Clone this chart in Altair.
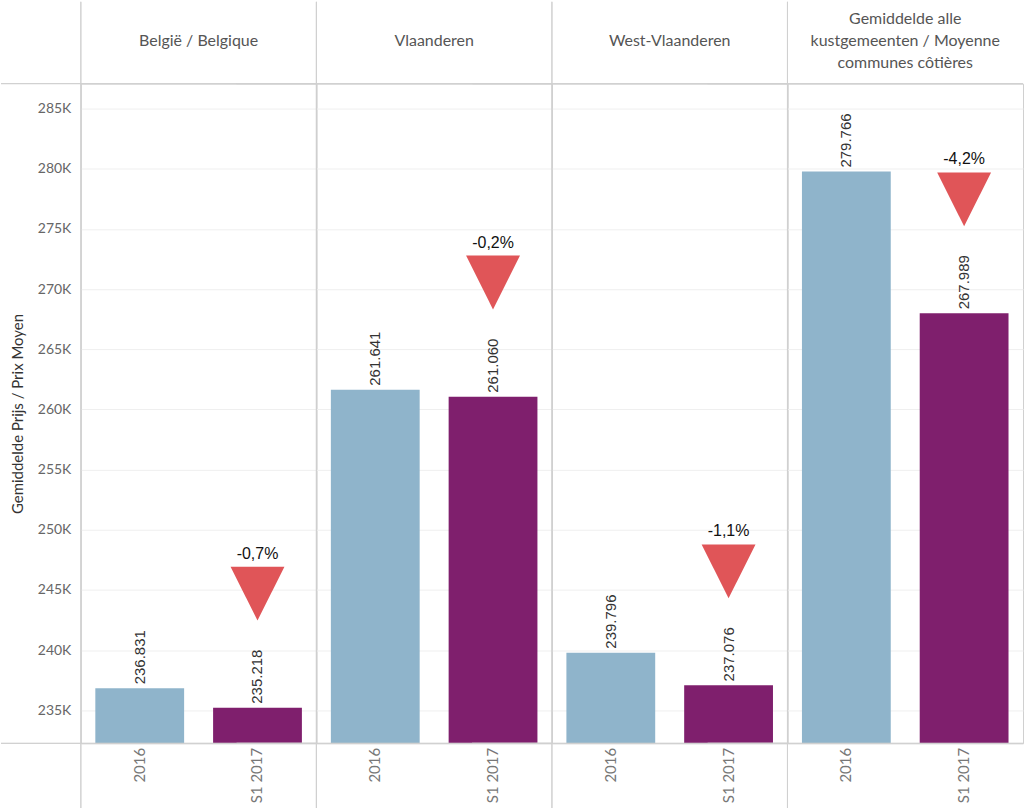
import altair as alt
import pandas as pd

regions = ["België / Belgique", "Vlaanderen", "West-Vlaanderen",
           "Gemiddelde alle|kustgemeenten / Moyenne|communes côtières"]
periods = ["2016", "S1 2017"]
values_2016 = [236831, 261641, 239796, 279766]
values_s1_2017 = [235218, 261060, 237076, 267989]
change_labels = ["-0,7%", "-0,2%", "-1,1%", "-4,2%"]
marker_values = [244700, 270550, 246550, 277450]

rows = []
for i, r in enumerate(regions):
    for j, (p, v) in enumerate(zip(periods, [values_2016[i], values_s1_2017[i]])):
        rows.append({"region": r, "period": p, "value": v,
                     "label": f"{v:,}".replace(",", "."),
                     "marker": marker_values[i] if j == 1 else None,
                     "pct": change_labels[i] if j == 1 else None})
df = pd.DataFrame(rows)

W, H = 236, 661
LINE = "#d0d0d0"
yscale = alt.Scale(domain=[232260, 287070], zero=False, nice=False)
xenc = alt.X("period:N", sort=periods,
             scale=alt.Scale(paddingInner=0.246, paddingOuter=0.123),
             axis=alt.Axis(title=None, labelAngle=270, ticks=False, domain=False,
                           labelFontSize=15, labelColor="#777", labelFont="Lato",
                           labelPadding=4))
yaxis = alt.Axis(title="Gemiddelde Prijs / Prix Moyen", titleFontSize=15,
                 titleFont="Lato", titleColor="#333", titleFontWeight="normal",
                 values=list(range(235000, 290000, 5000)),
                 labelExpr="format(datum.value/1000,'d') + 'K'",
                 labelFontSize=14, labelFont="Lato", labelColor="#666",
                 ticks=False, domain=False, gridColor="#efefef",
                 labelPadding=10, titlePadding=12)

bars = alt.Chart().mark_bar(clip=True).encode(
    x=xenc, y=alt.Y("value:Q", scale=yscale, axis=yaxis),
    color=alt.Color("period:N", sort=periods,
                    scale=alt.Scale(domain=periods, range=["#8FB4CB", "#7F1F6D"]),
                    legend=None))
bar_text = alt.Chart().mark_text(angle=270, align="left", baseline="middle", dx=4,
                                 fontSize=15, font="Liberation Sans", color="#333").encode(
    x=xenc, y=alt.Y("value:Q", scale=yscale), text="label:N")
tri = alt.Chart().transform_filter("isValid(datum.marker)").mark_point(
    shape="M-1,-1L1,-1L0,1Z", filled=True, opacity=1, size=2916, color="#E05558").encode(
    x=xenc, y=alt.Y("marker:Q", scale=yscale))
pct = alt.Chart().transform_filter("isValid(datum.marker)").mark_text(
    baseline="middle", dy=-40, fontSize=16, font="Liberation Sans", color="#111").encode(
    x=xenc, y=alt.Y("marker:Q", scale=yscale), text="pct:N")

vline = alt.Chart().mark_rule(color=LINE, strokeWidth=1).encode(
    x=alt.value(0), y=alt.value(-82), y2=alt.value(H + 65))
htop = alt.Chart().mark_rule(color=LINE, strokeWidth=1).encode(
    x=alt.value(-80), x2=alt.value(W), y=alt.value(0))
hbot = alt.Chart().mark_rule(color=LINE, strokeWidth=1).encode(
    x=alt.value(-80), x2=alt.value(W), y=alt.value(H))

chart = alt.layer(bars, bar_text, tri, pct, vline, htop, hbot, data=df).properties(
    width=W, height=H).facet(
    column=alt.Column("region:N", sort=regions, title=None,
                      header=alt.Header(
                          labelExpr="length(split(datum.value,'|'))==1 ? ['', datum.value, ''] : split(datum.value,'|')",
                          labelFontSize=16, labelFont="Lato", labelColor="#555",
                          labelOrient="top", labelPadding=13, labelLineHeight=22)),
    spacing=0,
).properties(
    bounds="flush",
    padding={"left": 0, "right": 0, "top": 0, "bottom": 0}, background="white",
).configure_view(stroke=LINE, strokeWidth=1)

chart.save("out.html", embed_options={"renderer": "svg", "actions": False})
